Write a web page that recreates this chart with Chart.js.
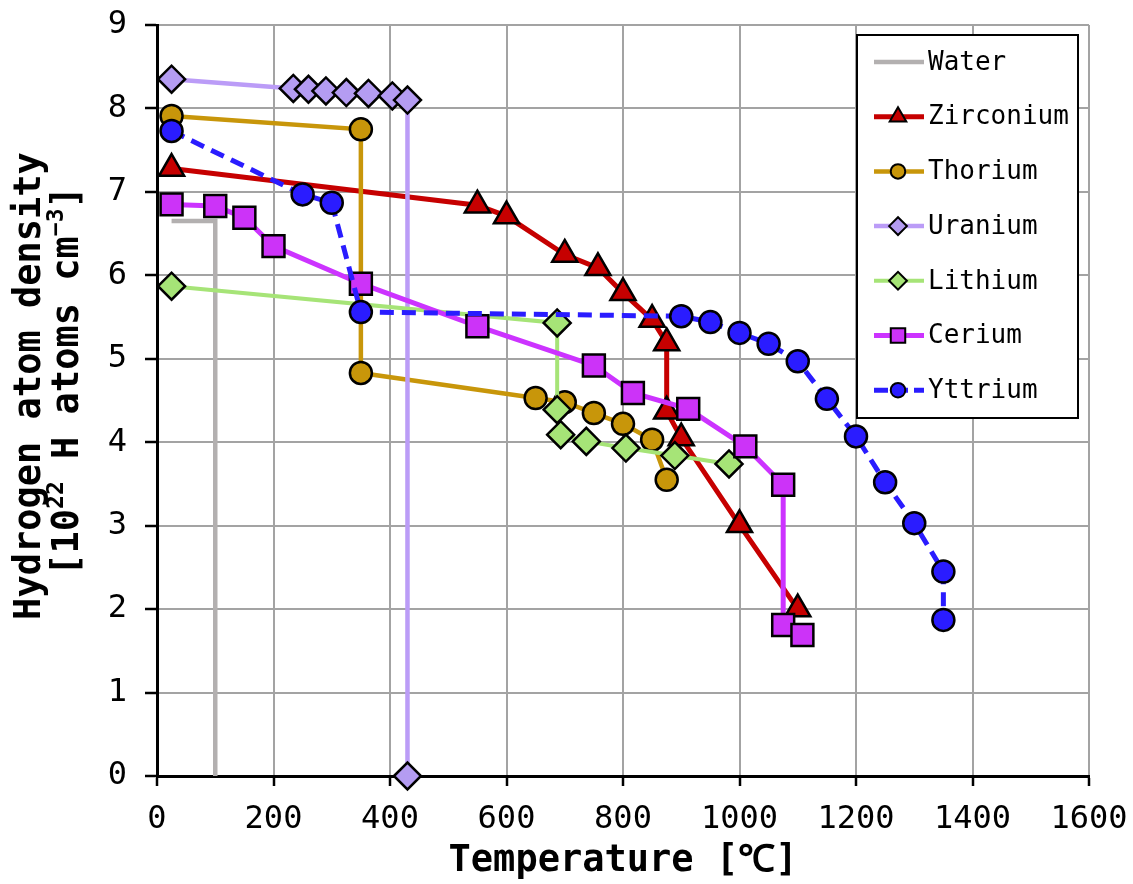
<!DOCTYPE html>
<html><head><meta charset="utf-8">
<script src="https://cdn.jsdelivr.net/npm/chart.js@4.4.1/dist/chart.umd.min.js"></script>
<style>html,body{margin:0;padding:0;background:#fff;}</style>
</head><body>
<canvas id="c" width="1133" height="884"></canvas>
<script>
// ---- data (temperature °C, hydrogen density 1e22 H/cm3) ----
const seriesNames = ['Water','Zirconium','Thorium','Uranium','Lithium','Cerium','Yttrium'];
const waterT = [25, 100, 100];
const waterH = [6.65, 6.65, 0];
const zirconiumT = [25, 550, 600, 700, 757, 800, 850, 875, 875, 900, 1000, 1100];
const zirconiumH = [7.28, 6.84, 6.71, 6.25, 6.09, 5.79, 5.47, 5.19, 4.37, 4.05, 3.01, 2.0];
const thoriumT = [25, 350, 350, 650, 700, 750, 800, 850, 875];
const thoriumH = [7.91, 7.75, 4.83, 4.53, 4.48, 4.35, 4.22, 4.03, 3.55];
const uraniumT = [25, 234, 260, 290, 325, 363, 404, 430, 430];
const uraniumH = [8.35, 8.24, 8.23, 8.21, 8.19, 8.18, 8.15, 8.10, 0];
const lithiumT = [25, 687, 687, 693, 737, 805, 889, 982];
const lithiumH = [5.87, 5.43, 4.39, 4.09, 4.01, 3.93, 3.84, 3.74];
const ceriumT = [25, 100, 150, 200, 350, 550, 750, 817, 912, 1010, 1075, 1075, 1108];
const ceriumH = [6.85, 6.83, 6.69, 6.35, 5.90, 5.39, 4.92, 4.59, 4.40, 3.95, 3.49, 1.81, 1.69];
const yttriumT = [25, 250, 300, 350, 900, 950, 1000, 1050, 1100, 1150, 1200, 1250, 1300, 1350, 1350];
const yttriumH = [7.73, 6.97, 6.87, 5.56, 5.51, 5.44, 5.31, 5.18, 4.97, 4.52, 4.07, 3.52, 3.03, 2.45, 1.87];
const xTicks = [0, 200, 400, 600, 800, 1000, 1200, 1400, 1600];
const yTicks = [0, 1, 2, 3, 4, 5, 6, 7, 8, 9];
const xTitle = 'Temperature [℃]';
const yTitleLine1 = 'Hydrogen atom density';
// second line pieces: [text, isSuperscript]
const yTitleLine2 = [['[10', false], ['22', true], [' H atoms cm', false], ['−3', true], [']', false]];

const pts = (T, H) => T.map((t, i) => ({x: t, y: H[i]}));
const FONT = "'DejaVu Sans Mono', 'Liberation Mono', monospace";

const styles = [
  {line:'#b3b0b0', fill:'#b3b0b0', shape:false, r:0, bw:4.5},
  {line:'#c60000', fill:'#c60000', shape:'triangle', r:14.5, bw:5},
  {line:'#c8960a', fill:'#c8960a', shape:'circle', r:11, bw:4.5},
  {line:'#bb9cf7', fill:'#b49cf2', shape:'rectRot', r:13.5, bw:4.5},
  {line:'#a6e477', fill:'#a6e477', shape:'rectRot', r:13.5, bw:4},
  {line:'#cc33ff', fill:'#cc33f8', shape:'rect', r:15.5, bw:5},
  {line:'#2a1cff', fill:'#2a1cff', shape:'circle', r:11, bw:5, dash:[14,8]}
];
const dataArrays = [
  pts(waterT, waterH), pts(zirconiumT, zirconiumH), pts(thoriumT, thoriumH),
  pts(uraniumT, uraniumH), pts(lithiumT, lithiumH), pts(ceriumT, ceriumH), pts(yttriumT, yttriumH)
];

const datasets = seriesNames.map((name, i) => {
  const s = styles[i];
  return {
    label: name,
    data: dataArrays[i],
    borderColor: s.line,
    backgroundColor: s.fill,
    borderWidth: s.bw,
    borderDash: s.dash || [],
    pointStyle: s.shape || 'circle',
    pointRadius: s.shape ? s.r : 0,
    pointHoverRadius: s.shape ? s.r : 0,
    pointBackgroundColor: s.fill,
    pointBorderColor: '#000',
    pointBorderWidth: 2.5,
    tension: 0,
    fill: false,
    clip: false,
    order: seriesNames.length - i
  };
});

const legendPlugin = {
  id: 'boxLegend',
  afterDraw(chart) {
    const ctx = chart.ctx;
    const bx = 857, by = 35, bw = 221, bh = 383;
    ctx.save();
    ctx.fillStyle = '#fff';
    ctx.fillRect(bx, by, bw, bh);
    ctx.strokeStyle = '#000';
    ctx.lineWidth = 2;
    ctx.strokeRect(bx, by, bw, bh);
    seriesNames.forEach((name, i) => {
      const s = styles[i];
      const y = 62 + i * 54.7;
      ctx.save();
      ctx.strokeStyle = s.line;
      ctx.lineWidth = s.bw;
      ctx.setLineDash(s.dash ? [14, 6] : []);
      ctx.beginPath();
      ctx.moveTo(874, y);
      ctx.lineTo(924, y);
      ctx.stroke();
      ctx.restore();
      if (s.shape) {
        ctx.save();
        ctx.fillStyle = s.fill;
        ctx.strokeStyle = '#000';
        ctx.lineWidth = 2;
        Chart.helpers.drawPoint(ctx, {pointStyle: s.shape, radius: s.r * 0.66, rotation: 0, borderWidth: 2}, 898, y);
        ctx.restore();
      }
      ctx.fillStyle = '#000';
      ctx.font = "26px " + FONT;
      ctx.textBaseline = 'middle';
      ctx.textAlign = 'left';
      ctx.fillText(name, 928, y + 1);
    });
    ctx.restore();
  }
};

const yTitlePlugin = {
  id: 'yTitle',
  afterDraw(chart) {
    const ctx = chart.ctx;
    const big = "bold 37px " + FONT, small = "bold 23px " + FONT;
    ctx.save();
    ctx.fillStyle = '#000';
    ctx.textBaseline = 'middle';
    ctx.textAlign = 'left';
    ctx.save();
    ctx.translate(30, 386);
    ctx.rotate(-Math.PI / 2);
    ctx.font = big;
    const w1 = ctx.measureText(yTitleLine1).width;
    ctx.fillText(yTitleLine1, -w1 / 2, 0);
    ctx.restore();
    ctx.save();
    ctx.translate(68, 381);
    ctx.rotate(-Math.PI / 2);
    let total = 0;
    yTitleLine2.forEach(([t, sup]) => { ctx.font = sup ? small : big; total += ctx.measureText(t).width; });
    let x = -total / 2;
    yTitleLine2.forEach(([t, sup]) => {
      ctx.font = sup ? small : big;
      ctx.fillText(t, x, sup ? -11 : 0);
      x += ctx.measureText(t).width;
    });
    ctx.restore();
    ctx.restore();
  }
};

new Chart(document.getElementById('c'), {
  type: 'line',
  data: {datasets},
  plugins: [legendPlugin, yTitlePlugin],
  options: {
    responsive: false,
    animation: false,
    devicePixelRatio: 1,
    layout: {padding: {top: 25, right: 44, left: 0, bottom: 0}},
    plugins: {legend: {display: false}, tooltip: {enabled: false}},
    scales: {
      x: {
        type: 'linear', min: 0, max: 1600,
        afterBuildTicks: (sc) => { sc.ticks = xTicks.map(v => ({value: v})); },
        afterFit: (sc) => { sc.height = 108; sc.paddingLeft = 0; sc.paddingRight = 0; },
        ticks: {font: {family: FONT, size: 32}, color: '#000', padding: 14, maxRotation: 0, autoSkip: false,
                callback: (v) => String(v)},
        grid: {color: '#a3a3a3', lineWidth: 2, tickColor: '#000', tickLength: 10, tickWidth: 2.5},
        border: {color: '#000', width: 3},
        title: {display: true, text: xTitle, color: '#000',
                font: {family: FONT, size: 37, weight: 'bold'}, padding: {top: 0, bottom: 0}}
      },
      y: {
        type: 'linear', min: 0, max: 9,
        afterBuildTicks: (sc) => { sc.ticks = yTicks.map(v => ({value: v})); },
        afterFit: (sc) => { sc.width = 157; sc.paddingTop = 0; sc.paddingBottom = 0; },
        ticks: {font: {family: FONT, size: 32}, color: '#000', padding: 18, callback: (v) => String(v)},
        grid: {color: '#a3a3a3', lineWidth: 2, tickColor: '#000', tickLength: 12, tickWidth: 2.5},
        border: {color: '#000', width: 3},
        title: {display: false}
      }
    }
  }
});
</script>
</body></html>
